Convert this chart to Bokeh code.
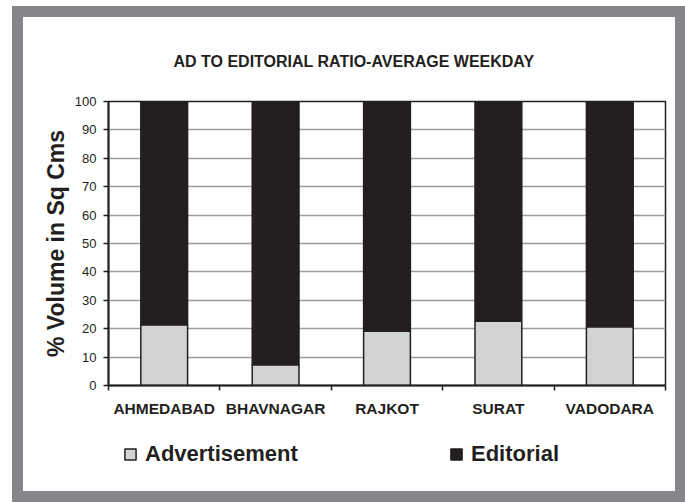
from bokeh.plotting import figure
from bokeh.layouts import column
from bokeh.models import Range1d, FixedTicker, Legend, LegendItem
from bokeh.embed import file_html
from bokeh.resources import INLINE

# ---- data ----
cities = ["AHMEDABAD", "BHAVNAGAR", "RAJKOT", "SURAT", "VADODARA"]
advertisement = [21.4, 7.3, 19.1, 22.6, 20.7]
editorial = [78.6, 92.7, 80.9, 77.4, 79.3]
y_ticks = [0, 10, 20, 30, 40, 50, 60, 70, 80, 90, 100]
title_text = "AD TO EDITORIAL RATIO-AVERAGE WEEKDAY"
y_label = "% Volume in Sq Cms"
series_names = ["Advertisement", "Editorial"]
series_colors = ["#d1d3d4", "#231f20"]

DARK = "#231f20"
GRAYFRAME = "#858689"
FONT = "Liberation Sans"

xs = [i + 0.5 for i in range(len(cities))]
data = dict(x=xs, Advertisement=advertisement, Editorial=editorial)

# ---------------- main chart ----------------
p = figure(width=652, height=413, output_backend="svg", toolbar_location=None,
           x_range=Range1d(0, len(cities)), y_range=Range1d(0, 100),
           min_border_left=85, min_border_right=10, min_border_top=84,
           min_border_bottom=45)

p.vbar_stack(series_names, x="x", width=0.42, source=data,
             fill_color=series_colors, line_color=DARK, line_width=1.5)

p.background_fill_color = "white"
p.border_fill_color = "white"
p.outline_line_color = DARK
p.outline_line_width = 1.5

p.title.text = title_text
p.title.align = "left"
p.title.text_font = FONT
p.title.text_font_size = "16px"
p.title.text_font_style = "bold"
p.title.text_color = DARK
p.title.offset = 65
p.title.standoff = 64

# x axis
p.xaxis.ticker = FixedTicker(ticks=xs, minor_ticks=list(range(len(cities) + 1)))
p.xaxis.major_label_overrides = {x: c for x, c in zip(xs, cities)}
p.xaxis.major_tick_line_color = None
p.xaxis.minor_tick_line_color = DARK
p.xaxis.minor_tick_line_width = 1.5
p.xaxis.minor_tick_out = 5
p.xaxis.minor_tick_in = 0
p.xaxis.axis_line_color = DARK
p.xaxis.axis_line_width = 2
p.xaxis.major_label_text_font = FONT
p.xaxis.major_label_text_font_size = "15.5px"
p.xaxis.major_label_text_font_style = "bold"
p.xaxis.major_label_text_color = DARK
p.xaxis.major_label_standoff = 8

# y axis
p.yaxis.ticker = FixedTicker(ticks=y_ticks)
p.yaxis.minor_tick_line_color = None
p.yaxis.major_tick_line_color = DARK
p.yaxis.major_tick_line_width = 1.5
p.yaxis.major_tick_out = 5
p.yaxis.major_tick_in = 0
p.yaxis.axis_line_color = DARK
p.yaxis.axis_line_width = 2
p.yaxis.major_label_text_font = FONT
p.yaxis.major_label_text_font_size = "13px"
p.yaxis.major_label_text_color = DARK
p.yaxis.major_label_standoff = 7
p.yaxis.axis_label = y_label
p.yaxis.axis_label_text_font = FONT
p.yaxis.axis_label_text_font_size = "23px"
p.yaxis.axis_label_text_font_style = "bold"
p.yaxis.axis_label_text_color = DARK
p.yaxis.axis_label_standoff = 3

p.xgrid.grid_line_color = None
p.ygrid.grid_line_color = "#9a9c9e"
p.ygrid.grid_line_width = 1.5

# ---------------- legend strip ----------------
q = figure(width=652, height=61, output_backend="svg", toolbar_location=None,
           x_range=Range1d(0, len(cities)), y_range=Range1d(0, 100),
           x_axis_location=None, y_axis_location=None,
           min_border=0)
q.grid.grid_line_color = None
q.outline_line_color = None
q.background_fill_color = "white"
q.border_fill_color = "white"

for name, color, xoff in zip(series_names, series_colors, [15, 341]):
    # the series itself, hidden in this strip: only its legend swatch shows
    r = q.vbar(x="x", top=name, width=0.42, source=data, visible=False,
               fill_color=color, line_color=DARK, line_width=1.5)
    lg = Legend(items=[LegendItem(label=name, renderers=[r])],
                location=(xoff, 24), orientation="horizontal",
                border_line_color=None, background_fill_alpha=0,
                inactive_fill_alpha=0,
                padding=0, margin=0, glyph_width=14, glyph_height=14,
                label_standoff=8, label_height=22,
                label_text_font=FONT, label_text_font_size="22px",
                label_text_font_style="bold", label_text_color=DARK)
    q.add_layout(lg, "center")

page = column(p, q, spacing=0, margin=(17, 0, 0, 23),
              styles={"outline": "11px solid " + GRAYFRAME})
open("out.html", "w").write(file_html(page, INLINE))
